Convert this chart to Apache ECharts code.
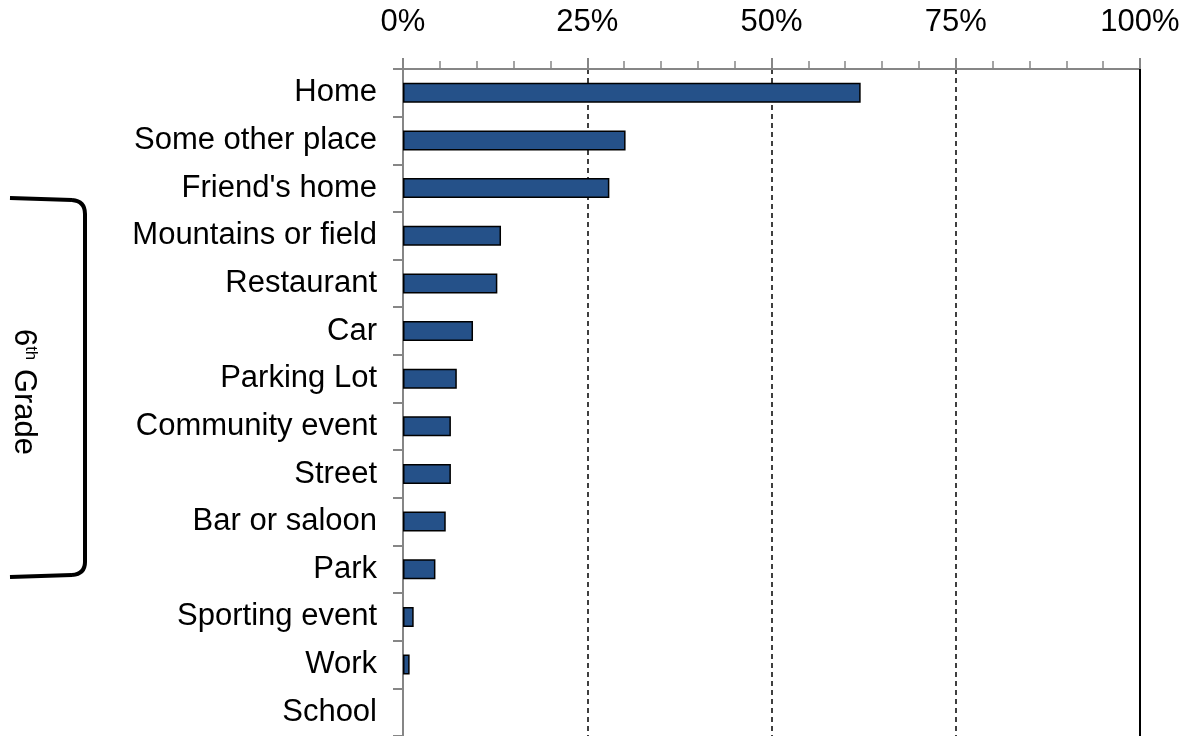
<!DOCTYPE html>
<html>
<head>
<meta charset="utf-8">
<script src="https://cdn.jsdelivr.net/npm/echarts@6/dist/echarts.min.js"></script>
<style>html,body{margin:0;padding:0;background:#fff}#c{width:1190px;height:736px}</style>
</head>
<body>
<div id="c"></div>
<script>
var categories = ["Home","Some other place","Friend's home","Mountains or field","Restaurant","Car","Parking Lot","Community event","Street","Bar or saloon","Park","Sporting event","Work","School"];
var values = [62.1, 30.2, 28.0, 13.3, 12.8, 9.5, 7.3, 6.5, 6.5, 5.8, 4.4, 1.45, 0.9, 0];
var xTicks = [0, 25, 50, 75, 100];
var groupLabel = ["6", "th", " Grade"];

var FONT = '"Liberation Sans", Arial, sans-serif';
var chart = echarts.init(document.getElementById('c'), null, {renderer: 'canvas'});
var br = {stroke: '#000', lineWidth: 4, fill: null};
var barData = values.map(function (v) {
  return v === 0 ? {value: v, itemStyle: {borderWidth: 0}} : v;
});
chart.setOption({
  backgroundColor: '#fff',
  animation: false,
  grid: {left: 403, right: 50, top: 69, height: 672, containLabel: false},
  xAxis: {
    type: 'value', position: 'top', min: xTicks[0], max: xTicks[xTicks.length-1], interval: 25,
    axisLine: {show: true, lineStyle: {color: '#868686', width: 2}},
    axisTick: {show: true, length: 11, inside: false, lineStyle: {color: '#868686', width: 2}},
    minorTick: {show: true, splitNumber: 5, length: 8, lineStyle: {color: '#868686', width: 1.5}},
    axisLabel: {formatter: '{value}%', fontSize: 31, color: '#000', fontFamily: FONT, margin: 31},
    splitLine: {show: true, lineStyle: {color: '#000', width: 1.5, type: [5, 4]}}
  },
  yAxis: {
    type: 'category', inverse: true, data: categories,
    axisLine: {show: true, lineStyle: {color: '#868686', width: 2}},
    axisTick: {show: true, length: 10, lineStyle: {color: '#868686', width: 2}},
    axisLabel: {fontSize: 31, color: '#000', fontFamily: FONT, margin: 26},
    splitLine: {show: false}
  },
  series: [{
    type: 'bar', data: barData, barWidth: 20,
    itemStyle: {color: '#255189', borderColor: '#000', borderWidth: 1.5},
    markLine: {
      silent: true, symbol: 'none', label: {show: false},
      lineStyle: {color: '#000', width: 2, type: 'solid'},
      data: [{xAxis: xTicks[xTicks.length-1]}]
    }
  }],
  graphic: [
    {type: 'line', shape: {x1: 10, y1: 198, x2: 72, y2: 200}, style: br},
    {type: 'bezierCurve', shape: {x1: 72, y1: 200, cpx1: 85, cpy1: 201, x2: 85, y2: 214}, style: br},
    {type: 'line', shape: {x1: 85, y1: 214, x2: 85, y2: 562}, style: br},
    {type: 'bezierCurve', shape: {x1: 85, y1: 562, cpx1: 85, cpy1: 574, x2: 72, y2: 575}, style: br},
    {type: 'line', shape: {x1: 72, y1: 575, x2: 10, y2: 577}, style: br},
    {
      type: 'text', x: 24, y: 392, rotation: -Math.PI/2,
      style: {
        text: '{n|' + groupLabel[0] + '}{s|' + groupLabel[1] + '}{n|' + groupLabel[2] + '}',
        align: 'center', verticalAlign: 'middle',
        rich: {
          n: {fontSize: 31, fontFamily: FONT, fill: '#000'},
          s: {fontSize: 17, fontFamily: FONT, fill: '#000', verticalAlign: 'top', padding: [0,0,12,0]}
        }
      }
    }
  ]
});
</script>
</body>
</html>
